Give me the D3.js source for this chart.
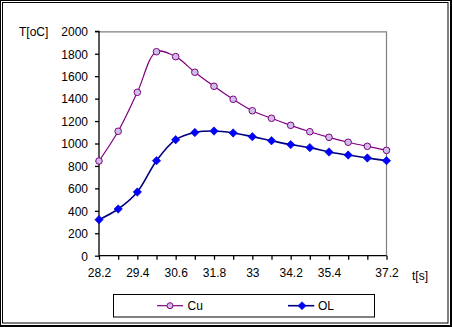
<!DOCTYPE html>
<html><head><meta charset="utf-8">
<script src="https://cdn.jsdelivr.net/npm/d3@7"></script>
<style>html,body{margin:0;padding:0;background:#fff;}svg{display:block;}</style>
</head><body>
<script>
const categories = ["28.2","28.8","29.4","30","30.6","31.2","31.8","32.4","33","33.6","34.2","34.8","35.4","36","36.6","37.2"];
const xTickLabels = ["28.2","","29.4","","30.6","","31.8","","33","","34.2","","35.4","","","37.2"];
const cuValues = [844,1109,1456,1818,1774,1635,1510,1394,1292,1225,1162,1105,1055,1011,975,939];
const olValues = [321,416,568,847,1034,1098,1111,1094,1061,1025,990,963,924,897,871,847];
const yTicks = [0,200,400,600,800,1000,1200,1400,1600,1800,2000];
const seriesNames = ["Cu","OL"];

(function(){
const W = 452, H = 327;
const svg = d3.select("body").append("svg").attr("width", W).attr("height", H);
const font = "'Liberation Sans', Arial, sans-serif";

// outer borders
svg.append("rect").attr("x",0).attr("y",0).attr("width",W).attr("height",H).attr("fill","#fff");
svg.append("rect").attr("x",0.5).attr("y",0.5).attr("width",450).attr("height",325).attr("fill","none").attr("stroke","#000");
svg.append("line").attr("x1",451.5).attr("x2",451.5).attr("y1",0).attr("y2",327).attr("stroke","#000");
svg.append("line").attr("x1",0).attr("x2",452).attr("y1",326.5).attr("y2",326.5).attr("stroke","#000");
svg.append("rect").attr("x",2.5).attr("y",2.5).attr("width",445.5).attr("height",320.5).attr("fill","none").attr("stroke","#000");

const pL = 99, pR = 386.5, pT = 31.3, pB = 255.7;
const x = d3.scalePoint().domain(categories).range([pL, pR]);
const y = d3.scaleLinear().domain([0, 2000]).range([pB, pT]);

// plot area border (gray)
svg.append("path").attr("d", `M${pL},${pT+0.5}H${pR}V${pB}`).attr("fill","none").attr("stroke","#808080").attr("stroke-width",1.2);

// y axis
const yAxis = d3.axisLeft(y).tickValues(yTicks).tickSize(4).tickPadding(7).tickFormat(d3.format("d"));
const gy = svg.append("g").attr("transform", `translate(${pL},0)`).call(yAxis);
gy.select(".domain").attr("stroke","#000").attr("stroke-width",1.3).attr("d", `M-4,${pT}H0V${pB}`);
gy.selectAll(".tick line").attr("stroke","#000").attr("stroke-width",1.3);
gy.selectAll("text").attr("font-family", font).attr("font-size", 12).attr("fill","#000").attr("dy","0.36em");

// x axis
const xAxis = d3.axisBottom(x).tickSize(4).tickPadding(9).tickFormat((d,i) => xTickLabels[i]);
const gx = svg.append("g").attr("transform", `translate(0,${pB})`).call(xAxis);
gx.select(".domain").attr("stroke","#000").attr("stroke-width",1.3).attr("d", `M${pL},0H${pR}`);
gx.selectAll(".tick line").attr("stroke","#000").attr("stroke-width",1.3);
gx.selectAll("text").attr("font-family", font).attr("font-size", 12).attr("fill","#000");

// axis titles
svg.append("text").attr("x",19).attr("y",pT+4.3).attr("font-family",font).attr("font-size",12).text("T[oC]");
svg.append("text").attr("x",412).attr("y",279.8).attr("font-family",font).attr("font-size",12).text("t[s]");

const line = d3.line().x((d,i) => x(categories[i])).y(d => y(d)).curve(d3.curveCatmullRom.alpha(0.5));

svg.append("path").datum(cuValues).attr("d", line).attr("fill","none").attr("stroke","#800080").attr("stroke-width",1.2);
svg.append("path").datum(olValues).attr("d", line).attr("fill","none").attr("stroke","#000080").attr("stroke-width",1.6);

const diamond = (cx, cy, r) => `M${cx},${cy-r}L${cx+r},${cy}L${cx},${cy+r}L${cx-r},${cy}Z`;

svg.append("g").selectAll("circle").data(cuValues).join("circle")
  .attr("cx", (d,i) => x(categories[i])).attr("cy", d => y(d)).attr("r", 3.3)
  .attr("fill","#ccc0e8").attr("stroke","#800080").attr("stroke-width",1);

svg.append("g").selectAll("path").data(olValues).join("path")
  .attr("d", (d,i) => diamond(x(categories[i]), y(d), 4.2))
  .attr("fill","#0000ff").attr("stroke","#0000cc").attr("stroke-width",0.6);

// legend
const lg = svg.append("g");
lg.append("rect").attr("x",113.5).attr("y",294.5).attr("width",261).attr("height",22.5).attr("fill","#fff").attr("stroke","#000");
const ly = 305.7;
lg.append("line").attr("x1",157).attr("x2",183).attr("y1",ly).attr("y2",ly).attr("stroke","#800080").attr("stroke-width",1.2);
lg.append("circle").attr("cx",170).attr("cy",ly).attr("r",3).attr("fill","#ccc0e8").attr("stroke","#800080");
lg.append("text").attr("x",187.5).attr("y",ly+4.3).attr("font-family",font).attr("font-size",12).text(seriesNames[0]);
lg.append("line").attr("x1",288).attr("x2",314.3).attr("y1",ly).attr("y2",ly).attr("stroke","#000080").attr("stroke-width",1.6);
lg.append("path").attr("d", diamond(302, ly, 4)).attr("fill","#0000ff").attr("stroke","#0000cc").attr("stroke-width",0.6);
lg.append("text").attr("x",318).attr("y",ly+4.3).attr("font-family",font).attr("font-size",12).text(seriesNames[1]);
})();
</script>
</body></html>
